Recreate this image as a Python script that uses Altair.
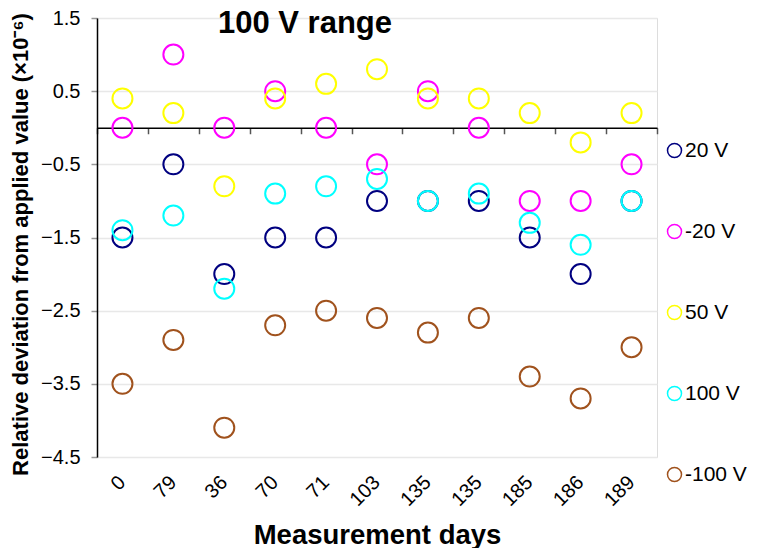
import altair as alt
import pandas as pd

days = ["0", "79", "36", "70", "71", "103", "135", "135", "185", "186", "189"]
series_names = ["20 V", "-20 V", "50 V", "100 V", "-100 V"]
colors = ["#000080", "#ff00ff", "#ffff00", "#00ffff", "#a0521d"]

v20 = [-1.5, -0.5, -2.0, -1.5, -1.5, -1.0, -1.0, -1.0, -1.5, -2.0, -1.0]
vm20 = [0.0, 1.0, 0.0, 0.5, 0.0, -0.5, 0.5, 0.0, -1.0, -1.0, -0.5]
v50 = [0.4, 0.2, -0.8, 0.4, 0.6, 0.8, 0.4, 0.4, 0.2, -0.2, 0.2]
v100 = [-1.4, -1.2, -2.2, -0.9, -0.8, -0.7, -1.0, -0.9, -1.3, -1.6, -1.0]
vm100 = [-3.5, -2.9, -4.1, -2.7, -2.5, -2.6, -2.8, -2.6, -3.4, -3.7, -3.0]

y_ticks = [1.5, 0.5, -0.5, -1.5, -2.5, -3.5, -4.5]

rows = []
for name, vals in zip(series_names, [v20, vm20, v50, v100, vm100]):
    for i, v in enumerate(vals):
        rows.append({"idx": i, "day": days[i], "series": name, "value": v})
df = pd.DataFrame(rows)

W, H = 560, 439
y_min, y_max = -4.5, 1.5
zero_offset = -(H - H * (y_max - 0) / (y_max - y_min))

label_expr = "[" + ",".join("'%s'" % d for d in days) + "][datum.value]"
FONT = "Liberation Sans"

x_scale = alt.Scale(type="band", paddingInner=0, paddingOuter=0)
y_scale = alt.Scale(domain=[y_min, y_max], nice=False, zero=False)

y_axis = alt.Axis(values=y_ticks, format=".1f", title="Relative deviation from applied value (×10⁻⁶)",
                  labelFontSize=20, labelFont=FONT, labelColor="#000", labelPadding=11,
                  domain=True, domainColor="#000", domainWidth=1.5,
                  ticks=True, tickColor="#999", tickSize=6, tickWidth=1.5,
                  grid=True, gridColor="#e8e8e8", gridWidth=1.3,
                  titleFont=FONT, titleFontSize=22, titleFontWeight="bold",
                  titleColor="#000", titlePadding=8, titleY=226)

points = alt.Chart(df).mark_point(filled=False, size=400, strokeWidth=2, opacity=1).encode(
    x=alt.X("idx:O", scale=x_scale,
            axis=alt.Axis(orient="bottom", title="Measurement days", labelExpr=label_expr,
                          labelAngle=-45, labelAlign="right", labelBaseline="middle",
                          labelFontSize=20, labelFont=FONT, labelColor="#000",
                          labelPadding=22, domain=False, ticks=False, grid=False,
                          titleFont=FONT, titleFontSize=27.5, titleFontWeight="bold",
                          titleColor="#000", titlePadding=12)),
    y=alt.Y("value:Q", scale=y_scale, axis=y_axis),
    color=alt.Color("series:N", scale=alt.Scale(domain=series_names, range=colors),
                    legend=alt.Legend(title=None, orient="none", legendX=567, legendY=122,
                                      symbolType="circle", symbolSize=196, symbolStrokeWidth=1.5,
                                      labelFontSize=21, labelFont=FONT, labelColor="#000",
                                      labelOffset=0, rowPadding=59, padding=0)),
)

zero_axis = alt.Chart(df).mark_point(opacity=0).encode(
    x=alt.X("idx:O", scale=x_scale,
            axis=alt.Axis(orient="bottom", offset=zero_offset, labels=False, title=None,
                          domain=True, domainColor="#000", domainWidth=1.5,
                          ticks=True, tickBand="extent", tickColor="#555", tickSize=6,
                          tickWidth=1.5, grid=False)),
    y=alt.Y("value:Q", scale=y_scale, axis=y_axis),
)

chart = alt.layer(points, zero_axis).resolve_axis(x="independent").properties(
    width=W, height=H,
    autosize=alt.AutoSizeParams(type="none"),
    padding={"left": 89, "top": 10, "right": 93, "bottom": 91},
    title=alt.TitleParams("100 V range", anchor="start", frame="group", dx=121, dy=36,
                          fontSize=31, fontWeight="bold", font=FONT, color="#000"),
).configure_view(strokeWidth=0, stroke="transparent").configure(background="white")

chart.save("out.html", embed_options={"renderer": "svg", "actions": False})
